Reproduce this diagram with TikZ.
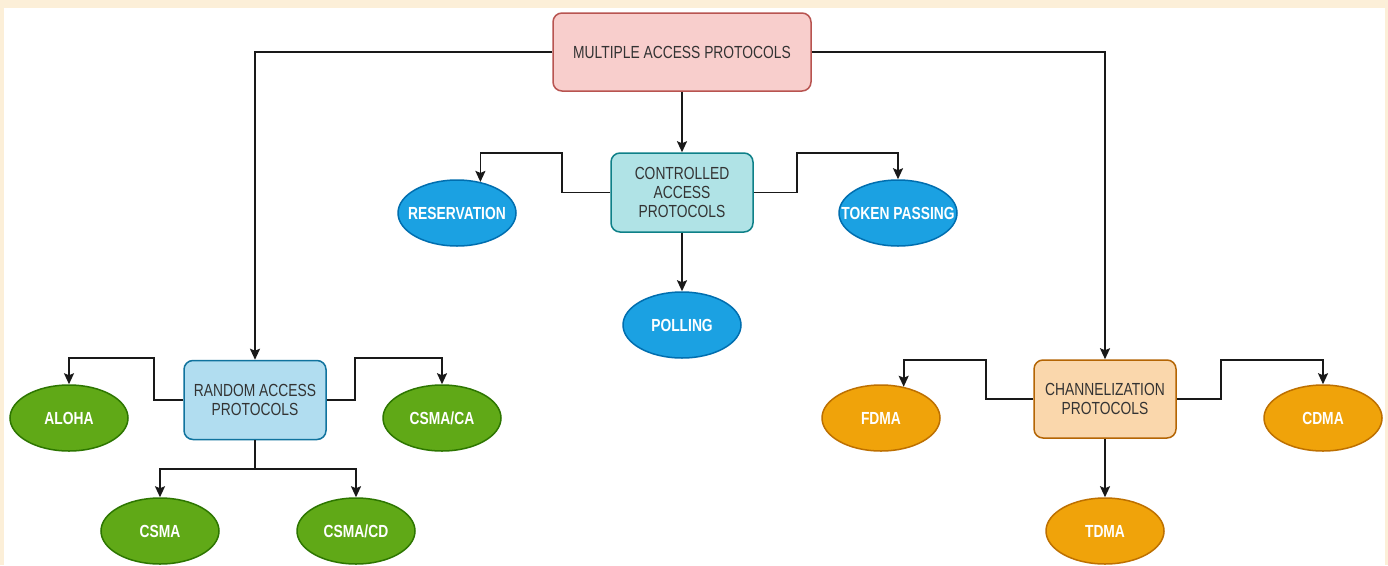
\documentclass[tikz,border=0pt]{standalone}
\usepackage{fontspec}
\setmainfont{Liberation Sans}[FakeStretch=0.79]
\usetikzlibrary{arrows.meta,shapes.geometric}
\definecolor{cream}{HTML}{FCEFD8}
\definecolor{mapfill}{HTML}{F8CECC}\definecolor{mapline}{HTML}{B85450}
\definecolor{capfill}{HTML}{B0E3E6}\definecolor{capline}{HTML}{0E8088}
\definecolor{rapfill}{HTML}{B1DDF0}\definecolor{rapline}{HTML}{10739E}
\definecolor{cpfill}{HTML}{FAD7AC}\definecolor{cpline}{HTML}{B46504}
\definecolor{bluefill}{HTML}{1BA1E2}\definecolor{blueline}{HTML}{006EAF}
\definecolor{greenfill}{HTML}{60A917}\definecolor{greenline}{HTML}{2D7600}
\definecolor{orangefill}{HTML}{F0A30A}\definecolor{orangeline}{HTML}{BD7000}
\definecolor{boxtext}{HTML}{333333}
\newcommand{\ovtxt}[1]{\makebox[0pt]{#1}}
\tikzset{
  box/.style={draw, line width=1.5pt, rounded corners=9pt, inner sep=0pt, align=center, text=boxtext},
  oval/.style={ellipse, draw, line width=1.5pt, minimum width=118pt, minimum height=66pt, inner sep=0pt, text=white,
    font=\fontsize{17.5}{19}\selectfont\bfseries},
  blueoval/.style={oval, fill=bluefill, draw=blueline},
  greenoval/.style={oval, fill=greenfill, draw=greenline},
  orangeoval/.style={oval, fill=orangefill, draw=orangeline},
  arr/.style={line width=1.8pt, draw=black!90, -{Stealth[length=11pt,width=10pt,inset=2pt]}},
  ln/.style={line width=1.8pt, draw=black!90}
}
\begin{document}
\begin{tikzpicture}[x=1pt,y=-1pt,font=\fontsize{17.5}{19}\selectfont]
\fill[cream] (0,0) rectangle (1388,565);
\fill[white] (4,8) rectangle (1385,565);
\useasboundingbox (0,0) rectangle (1388,565);

\node[box, fill=mapfill, draw=mapline, minimum width=258pt, minimum height=78pt] (map) at (682,52) {MULTIPLE ACCESS PROTOCOLS};
\node[box, fill=capfill, draw=capline, minimum width=142pt, minimum height=79pt] (cap) at (682,192.5) {CONTROLLED\\ACCESS\\PROTOCOLS};
\node[box, fill=rapfill, draw=rapline, minimum width=142pt, minimum height=79pt] (rap) at (255,400) {RANDOM ACCESS\\PROTOCOLS};
\node[box, fill=cpfill, draw=cpline, minimum width=142pt, minimum height=78pt] (cp) at (1105,399) {CHANNELIZATION\\PROTOCOLS};

\node[blueoval] (res) at (457,213) {\ovtxt{RESERVATION}};
\node[blueoval] (tok) at (898,213) {\ovtxt{TOKEN PASSING}};
\node[blueoval] (pol) at (682,325) {\ovtxt{POLLING}};

\node[greenoval] (aloha) at (69,418) {\ovtxt{ALOHA}};
\node[greenoval] (csmaca) at (442,418) {\ovtxt{CSMA/CA}};
\node[greenoval] (csma) at (160,531) {\ovtxt{CSMA}};
\node[greenoval] (csmacd) at (356,531) {\ovtxt{CSMA/CD}};

\node[orangeoval] (fdma) at (881,418) {\ovtxt{FDMA}};
\node[orangeoval] (cdma) at (1323,418) {\ovtxt{CDMA}};
\node[orangeoval] (tdma) at (1105,531) {\ovtxt{TDMA}};

% top level
\draw[arr] (map.west) -| (rap.north);
\draw[arr] (map.east) -| (cp.north);
\draw[arr] (map.south) -- (cap.north);

% controlled access
\draw[arr] (cap.west) -- ++(-48,0) -- ++(0,-39.5) -| (res.53);
\draw[arr] (cap.east) -- ++(43,0) -- ++(0,-39.5) -| (tok.north);
\draw[arr] (cap.south) -- (pol.north);

% random access
\draw[arr] (rap.west) -- ++(-29,0) -- ++(0,-42) -| (aloha.north);
\draw[arr] (rap.east) -- ++(28,0) -- ++(0,-42) -| (csmaca.north);
\draw[ln] (rap.south) -- ++(0,29) coordinate (rs);
\draw[arr] (rs) -| (csma.north);
\draw[arr] (rs) -| (csmacd.north);

% channelization
\draw[arr] (cp.west) -- ++(-47,0) -- ++(0,-39) -| (fdma.54);
\draw[arr] (cp.east) -- ++(44,0) -- ++(0,-39) -| (cdma.north);
\draw[arr] (cp.south) -- (tdma.north);
\end{tikzpicture}
\end{document}
